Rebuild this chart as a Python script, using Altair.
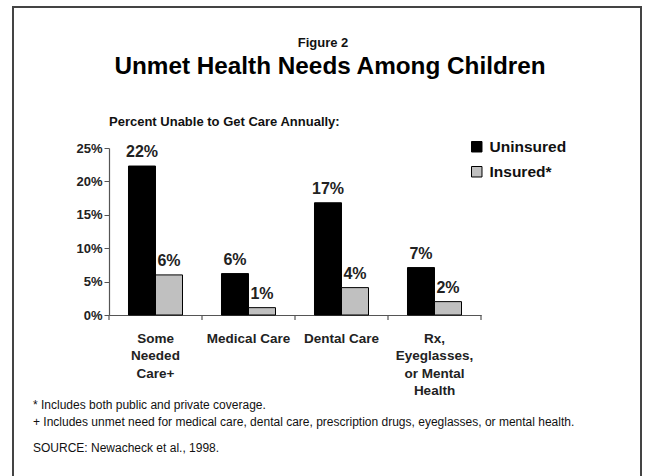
import altair as alt
import pandas as pd

categories = ["Some Needed Care+", "Medical Care", "Dental Care", "Rx, Eyeglasses, or Mental Health"]
uninsured = [22.3, 6.2, 16.8, 7.1]
insured = [6.0, 1.1, 4.1, 2.0]
series = ["Uninsured", "Insured*"]
label_uninsured = ["22%", "6%", "17%", "7%"]
label_insured = ["6%", "1%", "4%", "2%"]
y_ticks = [0, 5, 10, 15, 20, 25]

title_small = "Figure 2"
title_main = "Unmet Health Needs Among Children"
subtitle = "Percent Unable to Get Care Annually:"
footnotes = [
    "* Includes both public and private coverage.",
    "+ Includes unmet need for medical care, dental care, prescription drugs, eyeglasses, or mental health.",
]
source = "SOURCE:  Newacheck et al., 1998."

rows = []
for i, c in enumerate(categories):
    rows.append({"cat": c, "series": series[0], "value": uninsured[i], "label": label_uninsured[i]})
    rows.append({"cat": c, "series": series[1], "value": insured[i], "label": label_insured[i]})
df = pd.DataFrame(rows)

W, H = 372, 167
PL, PT = 109, 148
FONT = "Liberation Sans"

label_expr = (
    "datum.value == 'Some Needed Care+' ? ['Some','Needed','Care+'] : "
    "datum.value == 'Rx, Eyeglasses, or Mental Health' ? ['Rx,','Eyeglasses,','or Mental','Health'] : datum.value"
)

xaxis = alt.Axis(labelExpr=label_expr, labelAngle=0, ticks=False,
                 labelFont=FONT, labelFontSize=13.5, labelFontWeight="bold",
                 labelColor="#222", labelPadding=23, labelLineHeight=17.5,
                 domainColor="#555", domainWidth=1.2, labelBaseline="middle")
xscale = alt.Scale(paddingInner=0, paddingOuter=0)

def xenc(band=None):
    if band is None:
        return alt.X("cat:N", sort=categories, title=None, scale=xscale, axis=xaxis)
    return alt.X("cat:N", sort=categories, title=None, scale=xscale, axis=xaxis, bandPosition=band)

yenc = alt.Y("value:Q", title=None,
             scale=alt.Scale(domain=[0, 25], nice=False, zero=True),
             axis=alt.Axis(values=y_ticks, labelExpr="datum.value + '%'", grid=False,
                           labelOverlap=False, tickCount=6,
                           tickSize=5, tickColor="#555", domainColor="#555", domainWidth=1.2,
                           labelFont=FONT, labelFontSize=13, labelFontWeight="bold",
                           labelColor="#222", labelPadding=2))

color = alt.Color("series:N", sort=series,
                  scale=alt.Scale(domain=series, range=["#000000", "#C0C0C0"]),
                  legend=alt.Legend(title=None, orient="none", legendX=360, legendY=-9,
                                    symbolType="square", symbolSize=110,
                                    symbolStrokeColor="#000", symbolStrokeWidth=1,
                                    labelFont=FONT, labelFontSize=15.5, labelFontWeight="bold",
                                    labelColor="#111", rowPadding=8, labelOffset=5))

xoff = alt.XOffset("series:N", sort=series, scale=alt.Scale(paddingInner=0, paddingOuter=0.722))

base = alt.Chart(df)

bars = base.mark_bar(stroke="#000", strokeWidth=1, size=27).encode(
    x=xenc(),
    xOffset=xoff,
    y=yenc,
    color=color,
)

texts = base.mark_text(font=FONT, fontSize=16, fontWeight="bold", baseline="bottom", dy=-6,
                       color="#222").encode(
    x=xenc(),
    xOffset=xoff,
    y=yenc,
    text="label:N",
)

tick_df = pd.DataFrame({"cat": categories})
ticks0 = alt.Chart(tick_df).mark_rule(color="#555", strokeWidth=1.2).encode(
    x=xenc(0),
    y=alt.value(H), y2=alt.value(H + 5))
ticks1 = alt.Chart(pd.DataFrame({"cat": categories[-1:]})).mark_rule(color="#555", strokeWidth=1.2).encode(
    x=xenc(1),
    y=alt.value(H), y2=alt.value(H + 5))

ann = pd.DataFrame({"t": [0]})

def txt(text, x, y, size, weight="normal", align="left", color="#111"):
    return alt.Chart(ann).mark_text(text=text, font=FONT, fontSize=size, fontWeight=weight,
                                    align=align, baseline="middle", color=color).encode(
        x=alt.value(x - PL), y=alt.value(y - PT))

frame = alt.Chart(ann).mark_rect(fill=None, stroke="#444", strokeWidth=2).encode(
    x=alt.value(13 - PL), x2=alt.value(641 - PL), y=alt.value(7 - PT), y2=alt.value(490 - PT))

layers = [
    frame,
    txt(title_small, 323, 43, 13, "bold", "center"),
    txt(title_main, 330, 67, 24.3, "bold", "center", "#000"),
    txt(subtitle, 109, 122, 13, "bold"),
    txt(footnotes[0], 33, 405, 12),
    txt(footnotes[1], 33, 422, 12),
    txt(source, 33, 448, 12),
    bars, texts, ticks0, ticks1,
]

chart = alt.layer(*layers).resolve_scale(color="shared").properties(
    width=W, height=H,
    padding={"left": PL, "top": PT, "right": 645 - PL - W, "bottom": 476 - PT - H},
    autosize=alt.AutoSizeParams(type="none"),
    background="white",
).configure_view(stroke=None)

chart.save("out.html", embed_options={"renderer": "svg", "actions": False})
